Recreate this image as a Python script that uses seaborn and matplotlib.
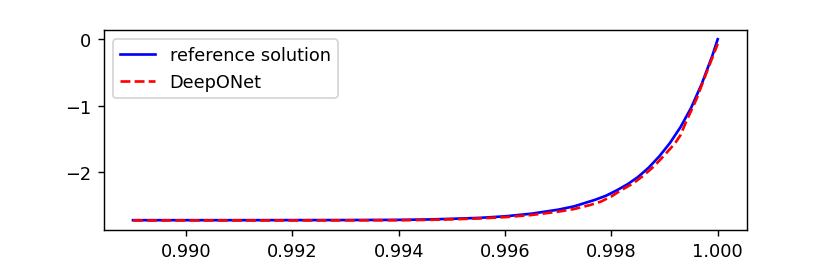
import matplotlib
matplotlib.use("Agg")
import matplotlib.pyplot as plt
import seaborn as sns

# Valors llegits del gràfic
x_ref = [0.989, 0.990, 0.991, 0.992, 0.993, 0.994, 0.9945, 0.995, 0.9955, 0.996,
         0.9965, 0.997, 0.9973, 0.9975, 0.9977, 0.9979, 0.9981, 0.9983, 0.9985,
         0.9987, 0.9989, 0.9991, 0.9993, 0.9995, 0.9997, 0.9999, 1.0]
y_ref = [-2.718, -2.718, -2.718, -2.717, -2.716, -2.713, -2.708, -2.697, -2.684, -2.66,
         -2.62, -2.56, -2.51, -2.46, -2.41, -2.35, -2.27, -2.18, -2.07,
         -1.93, -1.76, -1.56, -1.32, -1.03, -0.67, -0.245, 0.0]

x_don = [0.989, 0.990, 0.991, 0.992, 0.993, 0.994, 0.9945, 0.995, 0.9955, 0.996,
         0.9965, 0.997, 0.9973, 0.9976, 0.9978, 0.998, 0.9982, 0.9984, 0.9986,
         0.9988, 0.999, 0.9992, 0.9993, 0.9994, 0.9996, 0.9998, 1.0]
y_don = [-2.722, -2.722, -2.722, -2.722, -2.721, -2.719, -2.714, -2.705, -2.692, -2.672,
         -2.64, -2.59, -2.55, -2.49, -2.44, -2.36, -2.26, -2.17, -2.05,
         -1.91, -1.74, -1.56, -1.44, -1.25, -0.90, -0.48, -0.07]

fig, ax = plt.subplots(figsize=(6.484, 2.023), dpi=128)
sns.lineplot(x=x_ref, y=y_ref, color="blue", label="reference solution", ax=ax)
sns.lineplot(x=x_don, y=y_don, color="red", linestyle="--", label="DeepONet", ax=ax)
ax.set_yticks([-2, -1, 0])
ax.legend(loc="upper left")
plt.savefig("out.png")
